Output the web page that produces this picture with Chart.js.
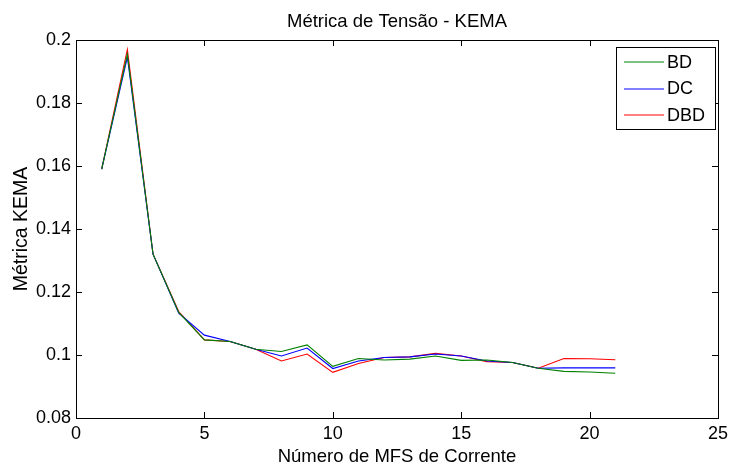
<!DOCTYPE html>
<html>
<head>
<meta charset="utf-8">
<script src="https://cdn.jsdelivr.net/npm/chart.js@4"></script>
<style>
  html, body { margin: 0; padding: 0; background: #fff; }
  #wrap { width: 733px; height: 464px; }
</style>
</head>
<body>
<div id="wrap"><canvas id="kemaChart" width="733" height="464"></canvas></div>
<script>
// Data
const xValues = [1, 2, 3, 4, 5, 6, 7, 8, 9, 10, 11, 12, 13, 14, 15, 16, 17, 18, 19, 20, 21];
const bdValues = [0.159, 0.1955, 0.132, 0.1135, 0.1048, 0.1043, 0.1018, 0.1011, 0.1032, 0.0964, 0.0989, 0.0984, 0.0987, 0.0997, 0.0983, 0.0984, 0.0976, 0.0958, 0.0948, 0.0946, 0.0942];
const dcValues = [0.159, 0.1946, 0.132, 0.1133, 0.1063, 0.1043, 0.1018, 0.0997, 0.1022, 0.0957, 0.0981, 0.0992, 0.0994, 0.1003, 0.0997, 0.0981, 0.0976, 0.0958, 0.0959, 0.0959, 0.0959];
const dbdValues = [0.159, 0.197, 0.132, 0.1138, 0.1048, 0.1043, 0.1018, 0.0981, 0.1003, 0.0945, 0.0973, 0.0992, 0.0994, 0.1005, 0.0997, 0.0979, 0.0976, 0.0958, 0.0989, 0.0988, 0.0985];
const xTicks = [0, 5, 10, 15, 20, 25];
const yTicks = [0.08, 0.1, 0.12, 0.14, 0.16, 0.18, 0.2];

const titleText = 'Métrica de Tensão - KEMA';
const xLabel = 'Número de MFS de Corrente';
const yLabel = 'Métrica KEMA';

const FONT = '"Liberation Sans", Arial, sans-serif';

function toPoints(ys) {
    return xValues.map((x, i) => ({ x: x, y: ys[i] }));
}

// Frame, inward ticks, titles and legend in MATLAB style
const matlabFrame = {
    id: 'matlabFrame',
    afterDatasetsDraw(chart) {
        const ctx = chart.ctx;
        const area = chart.chartArea;
        const xs = chart.scales.x;
        const ys = chart.scales.y;
        ctx.save();
        ctx.strokeStyle = '#000';
        ctx.lineWidth = 1;
        ctx.beginPath();
        xTicks.forEach(t => {
            const px = Math.round(xs.getPixelForValue(t)) + 0.5;
            ctx.moveTo(px, area.bottom); ctx.lineTo(px, area.bottom - 6);
            ctx.moveTo(px, area.top); ctx.lineTo(px, area.top + 6);
        });
        yTicks.forEach(t => {
            const py = Math.round(ys.getPixelForValue(t)) + 0.5;
            ctx.moveTo(area.left, py); ctx.lineTo(area.left + 6, py);
            ctx.moveTo(area.right, py); ctx.lineTo(area.right - 6, py);
        });
        ctx.stroke();
        ctx.strokeRect(Math.round(area.left) + 0.5, Math.round(area.top) + 0.5,
            Math.round(area.right - area.left), Math.round(area.bottom - area.top));

        // titles
        const cx = (area.left + area.right) / 2;
        const cy = (area.top + area.bottom) / 2;
        ctx.fillStyle = '#000';
        ctx.textAlign = 'center';
        ctx.textBaseline = 'alphabetic';
        ctx.font = '18.5px ' + FONT;
        ctx.fillText(titleText, cx, 27);
        ctx.font = '18.5px ' + FONT;
        ctx.fillText(xLabel, cx, 462);
        ctx.save();
        ctx.translate(27, cy);
        ctx.rotate(-Math.PI / 2);
        ctx.font = '19.5px ' + FONT;
        ctx.fillText(yLabel, 0, 0);
        ctx.restore();

        // legend box
        const lx = 616, ly = 47, lw = 99, lh = 82;
        ctx.fillStyle = '#fff';
        ctx.fillRect(lx, ly, lw, lh);
        ctx.strokeStyle = '#000';
        ctx.strokeRect(lx + 0.5, ly + 0.5, lw, lh);
        ctx.font = '18px ' + FONT;
        ctx.textAlign = 'left';
        ctx.textBaseline = 'middle';
        chart.data.datasets.forEach((ds, i) => {
            const y = 62 + i * 26.5;
            ctx.strokeStyle = ds.borderColor;
            ctx.beginPath();
            ctx.moveTo(624, Math.round(y));
            ctx.lineTo(664, Math.round(y));
            ctx.stroke();
            ctx.fillStyle = '#000';
            ctx.fillText(ds.label, 667, y + 1);
        });
        ctx.restore();
    }
};

const ctx = document.getElementById('kemaChart').getContext('2d');
const kemaChart = new Chart(ctx, {
    type: 'line',
    data: {
        datasets: [
            { label: 'BD', data: toPoints(bdValues), borderColor: '#008000' },
            { label: 'DC', data: toPoints(dcValues), borderColor: '#0000ff' },
            { label: 'DBD', data: toPoints(dbdValues), borderColor: '#ff0000' }
        ]
    },
    options: {
        responsive: false,
        animation: false,
        layout: { padding: { left: 0, right: 12, top: 40, bottom: 0 } },
        elements: {
            line: { borderWidth: 1.1, tension: 0 },
            point: { radius: 0 }
        },
        plugins: {
            legend: { display: false },
            tooltip: { enabled: false },
            title: { display: false }
        },
        scales: {
            x: {
                type: 'linear',
                min: 0, max: 25,
                afterBuildTicks: s => { s.ticks = xTicks.map(v => ({ value: v })); },
                afterFit: s => { s.height = 46; },
                grid: { display: false, drawTicks: false },
                border: { display: false },
                ticks: {
                    color: '#000',
                    padding: 5,
                    maxRotation: 0,
                    font: { family: FONT, size: 18 }
                }
            },
            y: {
                type: 'linear',
                min: 0.08, max: 0.2,
                afterBuildTicks: s => { s.ticks = yTicks.map(v => ({ value: v })); },
                afterFit: s => { s.width = 76; },
                grid: { display: false, drawTicks: false },
                border: { display: false },
                ticks: {
                    color: '#000',
                    padding: 5,
                    font: { family: FONT, size: 18 },
                    callback: v => String(Number(v.toFixed(2)))
                }
            }
        }
    },
    plugins: [matlabFrame]
});
</script>
</body>
</html>
